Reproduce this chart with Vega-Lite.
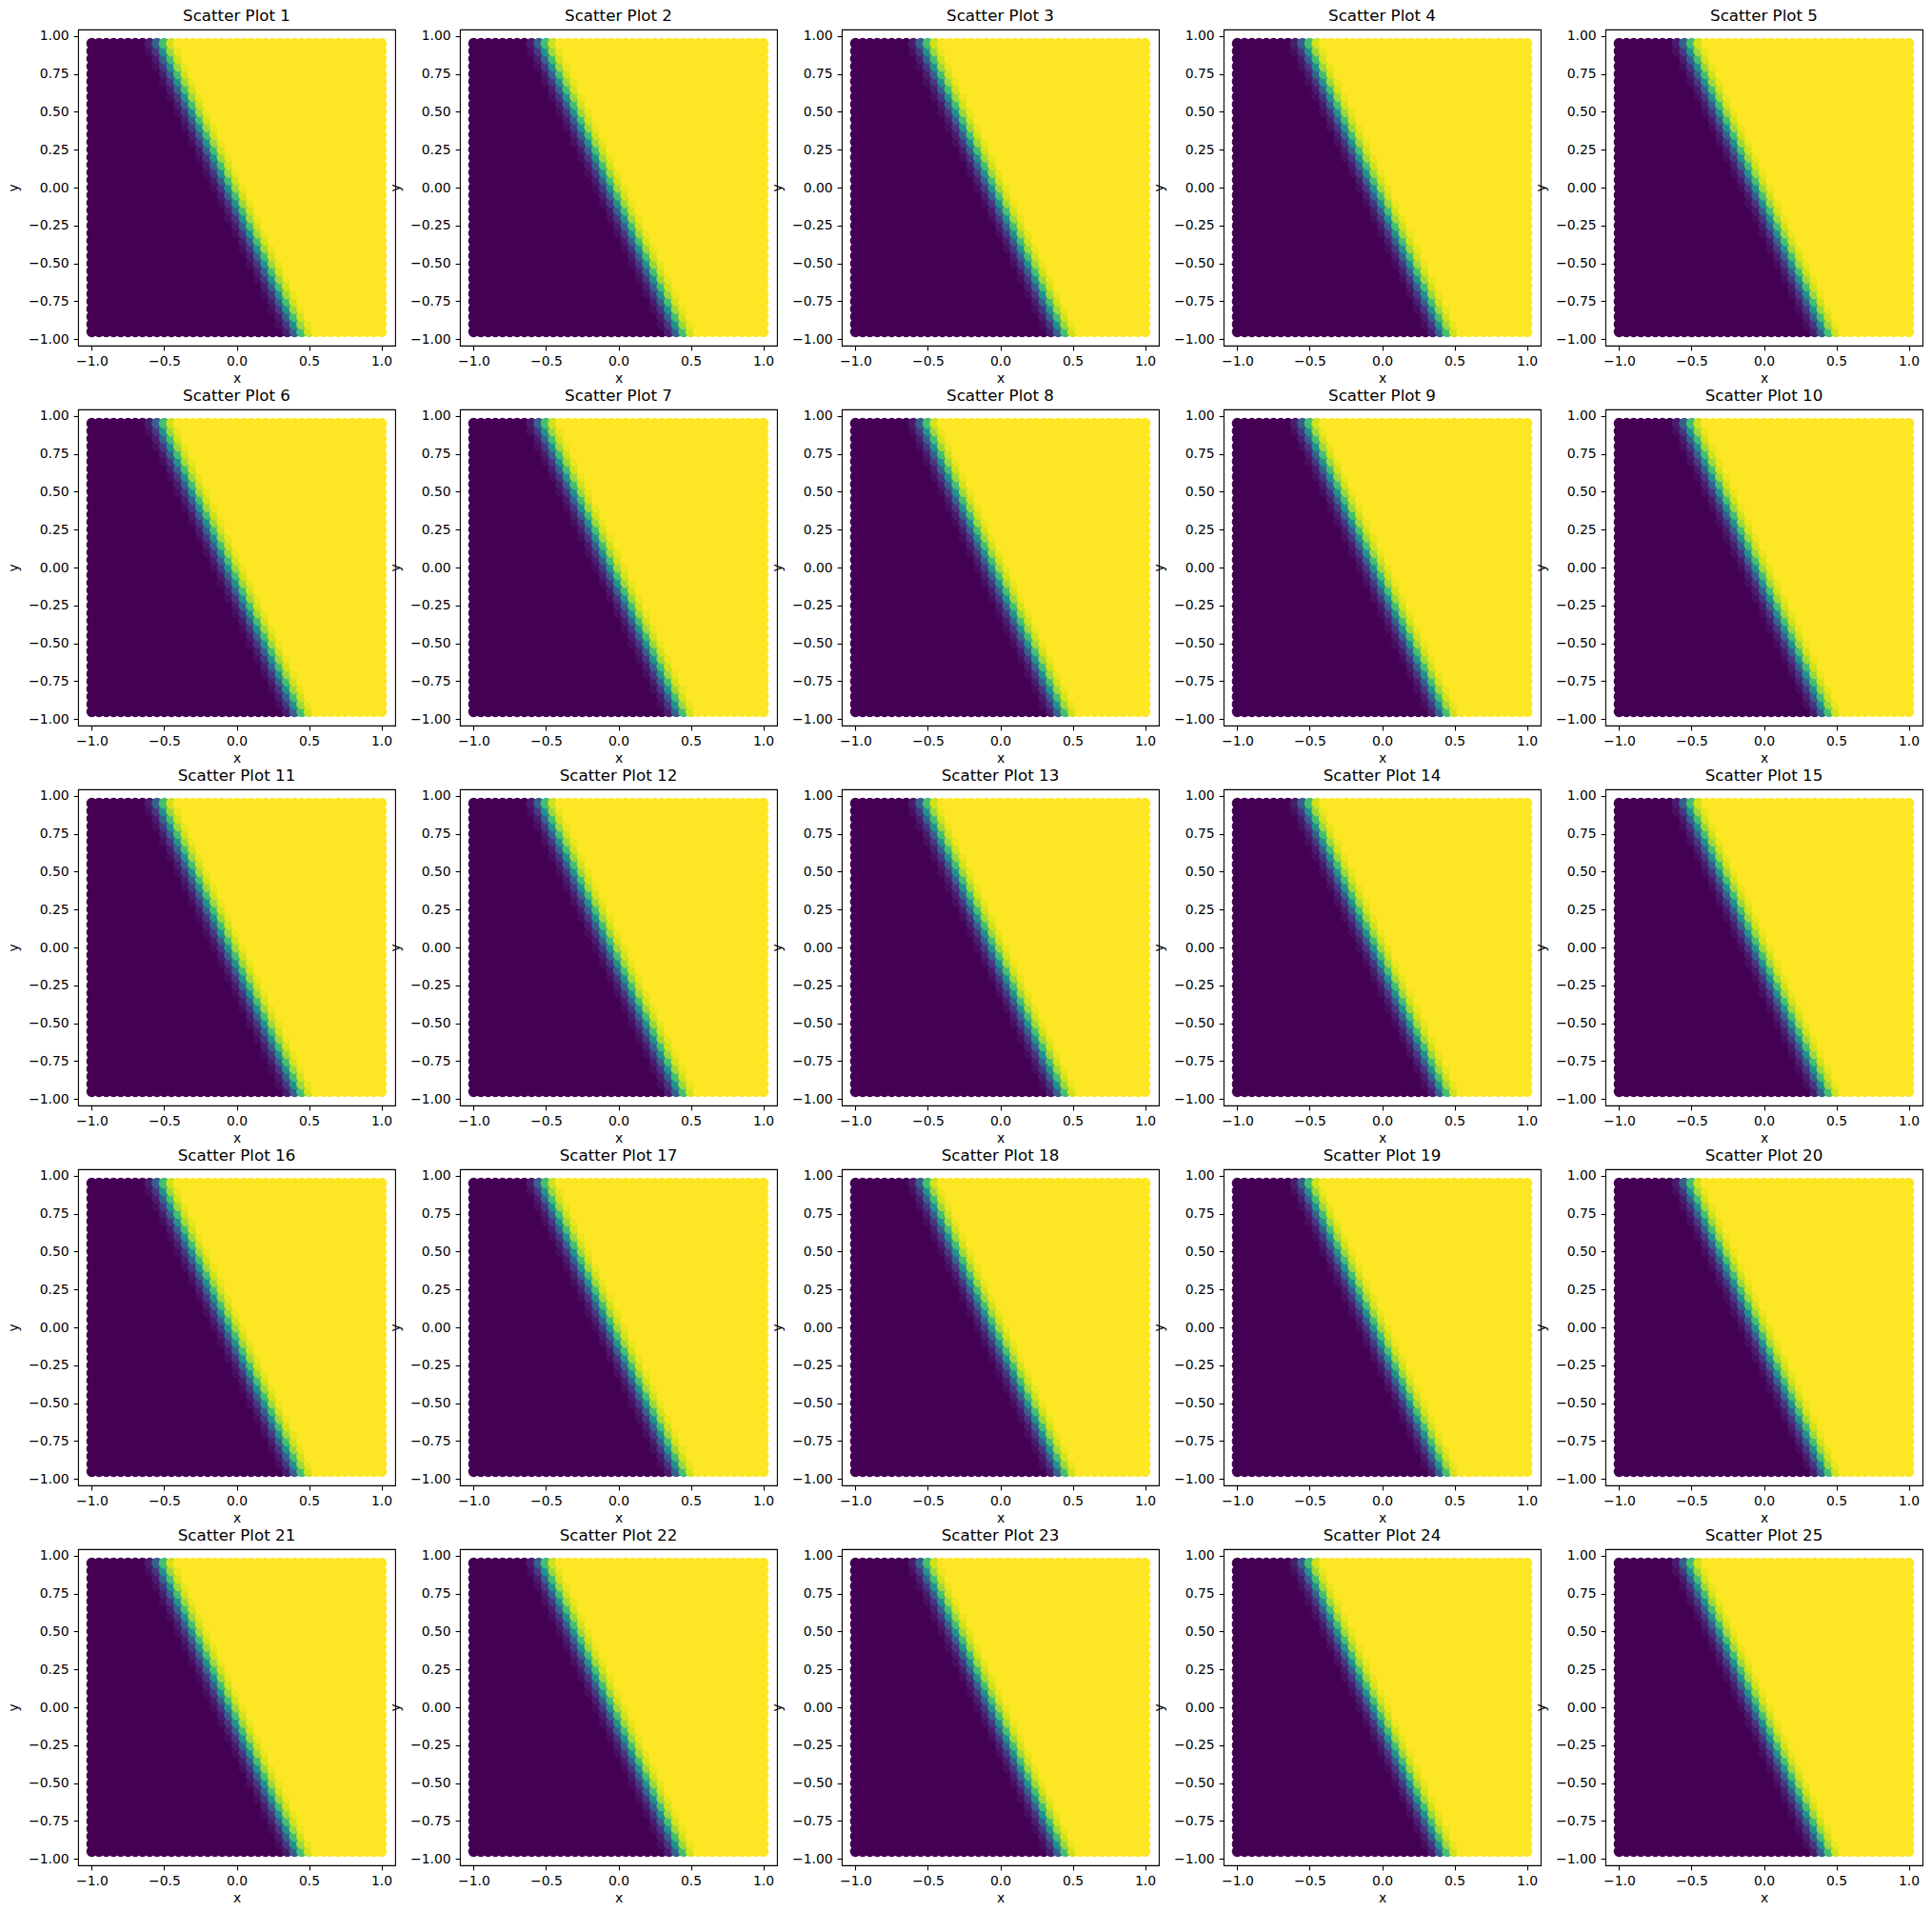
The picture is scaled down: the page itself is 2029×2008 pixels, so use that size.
{
"$schema": "https://vega.github.io/schema/vega-lite/v6.json",
"background": "white",
"padding": {"left": 7, "top": 8, "right": 5, "bottom": 5},
"datasets": {"g": [
{"y":-0.95,"p":[1,2,3,4,5,6,7,8,9,10,11,12,13,14,15,16,17,18,19,20,21,22,23,24,25],"x":[-1,-0.95,-0.9,-0.85,-0.8,-0.75,-0.7,-0.65,-0.6,-0.55,-0.5,-0.45,-0.4,-0.35,-0.3,-0.25,-0.2,-0.15,-0.1,-0.05,0,0.05,0.1,0.15,0.2,0.25,0.3,0.35,0.4,0.45,0.5,0.55,0.6,0.65,0.7,0.75,0.8,0.85,0.9,0.95,1],"c":[0,0,0,0,0, 0,0,0,0,0, 0,0,0,0,0, 0,0,0,0,0, 0,0,0,0,0, 0,0, 0.07,0.3,0.7,0.93, 1,1,1,1,1, 1,1,1,1,1]},
{"y":-0.9,"p":[1,2,3,4,5,6,7,8,9,10,11,12,13,14,15,16,17,18,19,20,21,22,23,24,25],"x":[-1,-0.95,-0.9,-0.85,-0.8,-0.75,-0.7,-0.65,-0.6,-0.55,-0.5,-0.45,-0.4,-0.35,-0.3,-0.25,-0.2,-0.15,-0.1,-0.05,0,0.05,0.1,0.15,0.2,0.25,0.3,0.35,0.4,0.45,0.5,0.55,0.6,0.65,0.7,0.75,0.8,0.85,0.9,0.95,1],"c":[0,0,0,0,0, 0,0,0,0,0, 0,0,0,0,0, 0,0,0,0,0, 0,0,0,0,0, 0, 0.03,0.15,0.5,0.85,0.97, 1,1,1,1,1, 1,1,1,1,1]},
{"y":-0.85,"p":[1,2,3,4,5,6,7,8,9,10,11,12,13,14,15,16,17,18,19,20,21,22,23,24,25],"x":[-1,-0.95,-0.9,-0.85,-0.8,-0.75,-0.7,-0.65,-0.6,-0.55,-0.5,-0.45,-0.4,-0.35,-0.3,-0.25,-0.2,-0.15,-0.1,-0.05,0,0.05,0.1,0.15,0.2,0.25,0.3,0.35,0.4,0.45,0.5,0.55,0.6,0.65,0.7,0.75,0.8,0.85,0.9,0.95,1],"c":[0,0,0,0,0, 0,0,0,0,0, 0,0,0,0,0, 0,0,0,0,0, 0,0,0,0,0, 0, 0.07,0.3,0.7,0.93, 1,1,1,1,1, 1,1,1,1,1, 1]},
{"y":-0.8,"p":[1,2,3,4,5,6,7,8,9,10,11,12,13,14,15,16,17,18,19,20,21,22,23,24,25],"x":[-1,-0.95,-0.9,-0.85,-0.8,-0.75,-0.7,-0.65,-0.6,-0.55,-0.5,-0.45,-0.4,-0.35,-0.3,-0.25,-0.2,-0.15,-0.1,-0.05,0,0.05,0.1,0.15,0.2,0.25,0.3,0.35,0.4,0.45,0.5,0.55,0.6,0.65,0.7,0.75,0.8,0.85,0.9,0.95,1],"c":[0,0,0,0,0, 0,0,0,0,0, 0,0,0,0,0, 0,0,0,0,0, 0,0,0,0,0, 0.03,0.15,0.5,0.85,0.97, 1,1,1,1,1, 1,1,1,1,1, 1]},
{"y":-0.75,"p":[1,2,3,4,5,6,7,8,9,10,11,12,13,14,15,16,17,18,19,20,21,22,23,24,25],"x":[-1,-0.95,-0.9,-0.85,-0.8,-0.75,-0.7,-0.65,-0.6,-0.55,-0.5,-0.45,-0.4,-0.35,-0.3,-0.25,-0.2,-0.15,-0.1,-0.05,0,0.05,0.1,0.15,0.2,0.25,0.3,0.35,0.4,0.45,0.5,0.55,0.6,0.65,0.7,0.75,0.8,0.85,0.9,0.95,1],"c":[0,0,0,0,0, 0,0,0,0,0, 0,0,0,0,0, 0,0,0,0,0, 0,0,0,0,0, 0.07,0.3,0.7,0.93, 1,1,1,1,1, 1,1,1,1,1, 1,1]},
{"y":-0.7,"p":[1,2,3,4,5,6,7,8,9,10,11,12,13,14,15,16,17,18,19,20,21,22,23,24,25],"x":[-1,-0.95,-0.9,-0.85,-0.8,-0.75,-0.7,-0.65,-0.6,-0.55,-0.5,-0.45,-0.4,-0.35,-0.3,-0.25,-0.2,-0.15,-0.1,-0.05,0,0.05,0.1,0.15,0.2,0.25,0.3,0.35,0.4,0.45,0.5,0.55,0.6,0.65,0.7,0.75,0.8,0.85,0.9,0.95,1],"c":[0,0,0,0,0, 0,0,0,0,0, 0,0,0,0,0, 0,0,0,0,0, 0,0,0,0, 0.03,0.15,0.5,0.85,0.97, 1,1,1,1,1, 1,1,1,1,1, 1,1]},
{"y":-0.65,"p":[1,2,3,4,5,6,7,8,9,10,11,12,13,14,15,16,17,18,19,20,21,22,23,24,25],"x":[-1,-0.95,-0.9,-0.85,-0.8,-0.75,-0.7,-0.65,-0.6,-0.55,-0.5,-0.45,-0.4,-0.35,-0.3,-0.25,-0.2,-0.15,-0.1,-0.05,0,0.05,0.1,0.15,0.2,0.25,0.3,0.35,0.4,0.45,0.5,0.55,0.6,0.65,0.7,0.75,0.8,0.85,0.9,0.95,1],"c":[0,0,0,0,0, 0,0,0,0,0, 0,0,0,0,0, 0,0,0,0,0, 0,0,0,0, 0.07,0.3,0.7,0.93, 1,1,1,1,1, 1,1,1,1,1, 1,1,1]},
{"y":-0.6,"p":[1,2,3,4,5,6,7,8,9,10,11,12,13,14,15,16,17,18,19,20,21,22,23,24,25],"x":[-1,-0.95,-0.9,-0.85,-0.8,-0.75,-0.7,-0.65,-0.6,-0.55,-0.5,-0.45,-0.4,-0.35,-0.3,-0.25,-0.2,-0.15,-0.1,-0.05,0,0.05,0.1,0.15,0.2,0.25,0.3,0.35,0.4,0.45,0.5,0.55,0.6,0.65,0.7,0.75,0.8,0.85,0.9,0.95,1],"c":[0,0,0,0,0, 0,0,0,0,0, 0,0,0,0,0, 0,0,0,0,0, 0,0,0, 0.03,0.15,0.5,0.85,0.97, 1,1,1,1,1, 1,1,1,1,1, 1,1,1]},
{"y":-0.55,"p":[1,2,3,4,5,6,7,8,9,10,11,12,13,14,15,16,17,18,19,20,21,22,23,24,25],"x":[-1,-0.95,-0.9,-0.85,-0.8,-0.75,-0.7,-0.65,-0.6,-0.55,-0.5,-0.45,-0.4,-0.35,-0.3,-0.25,-0.2,-0.15,-0.1,-0.05,0,0.05,0.1,0.15,0.2,0.25,0.3,0.35,0.4,0.45,0.5,0.55,0.6,0.65,0.7,0.75,0.8,0.85,0.9,0.95,1],"c":[0,0,0,0,0, 0,0,0,0,0, 0,0,0,0,0, 0,0,0,0,0, 0,0,0, 0.07,0.3,0.7,0.93, 1,1,1,1,1, 1,1,1,1,1, 1,1,1,1]},
{"y":-0.5,"p":[1,2,3,4,5,6,7,8,9,10,11,12,13,14,15,16,17,18,19,20,21,22,23,24,25],"x":[-1,-0.95,-0.9,-0.85,-0.8,-0.75,-0.7,-0.65,-0.6,-0.55,-0.5,-0.45,-0.4,-0.35,-0.3,-0.25,-0.2,-0.15,-0.1,-0.05,0,0.05,0.1,0.15,0.2,0.25,0.3,0.35,0.4,0.45,0.5,0.55,0.6,0.65,0.7,0.75,0.8,0.85,0.9,0.95,1],"c":[0,0,0,0,0, 0,0,0,0,0, 0,0,0,0,0, 0,0,0,0,0, 0,0, 0.03,0.15,0.5,0.85,0.97, 1,1,1,1,1, 1,1,1,1,1, 1,1,1,1]},
{"y":-0.45,"p":[1,2,3,4,5,6,7,8,9,10,11,12,13,14,15,16,17,18,19,20,21,22,23,24,25],"x":[-1,-0.95,-0.9,-0.85,-0.8,-0.75,-0.7,-0.65,-0.6,-0.55,-0.5,-0.45,-0.4,-0.35,-0.3,-0.25,-0.2,-0.15,-0.1,-0.05,0,0.05,0.1,0.15,0.2,0.25,0.3,0.35,0.4,0.45,0.5,0.55,0.6,0.65,0.7,0.75,0.8,0.85,0.9,0.95,1],"c":[0,0,0,0,0, 0,0,0,0,0, 0,0,0,0,0, 0,0,0,0,0, 0,0, 0.07,0.3,0.7,0.93, 1,1,1,1,1, 1,1,1,1,1, 1,1,1,1,1]},
{"y":-0.4,"p":[1,2,3,4,5,6,7,8,9,10,11,12,13,14,15,16,17,18,19,20,21,22,23,24,25],"x":[-1,-0.95,-0.9,-0.85,-0.8,-0.75,-0.7,-0.65,-0.6,-0.55,-0.5,-0.45,-0.4,-0.35,-0.3,-0.25,-0.2,-0.15,-0.1,-0.05,0,0.05,0.1,0.15,0.2,0.25,0.3,0.35,0.4,0.45,0.5,0.55,0.6,0.65,0.7,0.75,0.8,0.85,0.9,0.95,1],"c":[0,0,0,0,0, 0,0,0,0,0, 0,0,0,0,0, 0,0,0,0,0, 0, 0.03,0.15,0.5,0.85,0.97, 1,1,1,1,1, 1,1,1,1,1, 1,1,1,1,1]},
{"y":-0.35,"p":[1,2,3,4,5,6,7,8,9,10,11,12,13,14,15,16,17,18,19,20,21,22,23,24,25],"x":[-1,-0.95,-0.9,-0.85,-0.8,-0.75,-0.7,-0.65,-0.6,-0.55,-0.5,-0.45,-0.4,-0.35,-0.3,-0.25,-0.2,-0.15,-0.1,-0.05,0,0.05,0.1,0.15,0.2,0.25,0.3,0.35,0.4,0.45,0.5,0.55,0.6,0.65,0.7,0.75,0.8,0.85,0.9,0.95,1],"c":[0,0,0,0,0, 0,0,0,0,0, 0,0,0,0,0, 0,0,0,0,0, 0, 0.07,0.3,0.7,0.93, 1,1,1,1,1, 1,1,1,1,1, 1,1,1,1,1, 1]},
{"y":-0.3,"p":[1,2,3,4,5,6,7,8,9,10,11,12,13,14,15,16,17,18,19,20,21,22,23,24,25],"x":[-1,-0.95,-0.9,-0.85,-0.8,-0.75,-0.7,-0.65,-0.6,-0.55,-0.5,-0.45,-0.4,-0.35,-0.3,-0.25,-0.2,-0.15,-0.1,-0.05,0,0.05,0.1,0.15,0.2,0.25,0.3,0.35,0.4,0.45,0.5,0.55,0.6,0.65,0.7,0.75,0.8,0.85,0.9,0.95,1],"c":[0,0,0,0,0, 0,0,0,0,0, 0,0,0,0,0, 0,0,0,0,0, 0.03,0.15,0.5,0.85,0.97, 1,1,1,1,1, 1,1,1,1,1, 1,1,1,1,1, 1]},
{"y":-0.25,"p":[1,2,3,4,5,6,7,8,9,10,11,12,13,14,15,16,17,18,19,20,21,22,23,24,25],"x":[-1,-0.95,-0.9,-0.85,-0.8,-0.75,-0.7,-0.65,-0.6,-0.55,-0.5,-0.45,-0.4,-0.35,-0.3,-0.25,-0.2,-0.15,-0.1,-0.05,0,0.05,0.1,0.15,0.2,0.25,0.3,0.35,0.4,0.45,0.5,0.55,0.6,0.65,0.7,0.75,0.8,0.85,0.9,0.95,1],"c":[0,0,0,0,0, 0,0,0,0,0, 0,0,0,0,0, 0,0,0,0,0, 0.07,0.3,0.7,0.93, 1,1,1,1,1, 1,1,1,1,1, 1,1,1,1,1, 1,1]},
{"y":-0.2,"p":[1,2,3,4,5,6,7,8,9,10,11,12,13,14,15,16,17,18,19,20,21,22,23,24,25],"x":[-1,-0.95,-0.9,-0.85,-0.8,-0.75,-0.7,-0.65,-0.6,-0.55,-0.5,-0.45,-0.4,-0.35,-0.3,-0.25,-0.2,-0.15,-0.1,-0.05,0,0.05,0.1,0.15,0.2,0.25,0.3,0.35,0.4,0.45,0.5,0.55,0.6,0.65,0.7,0.75,0.8,0.85,0.9,0.95,1],"c":[0,0,0,0,0, 0,0,0,0,0, 0,0,0,0,0, 0,0,0,0, 0.03,0.15,0.5,0.85,0.97, 1,1,1,1,1, 1,1,1,1,1, 1,1,1,1,1, 1,1]},
{"y":-0.15,"p":[1,2,3,4,5,6,7,8,9,10,11,12,13,14,15,16,17,18,19,20,21,22,23,24,25],"x":[-1,-0.95,-0.9,-0.85,-0.8,-0.75,-0.7,-0.65,-0.6,-0.55,-0.5,-0.45,-0.4,-0.35,-0.3,-0.25,-0.2,-0.15,-0.1,-0.05,0,0.05,0.1,0.15,0.2,0.25,0.3,0.35,0.4,0.45,0.5,0.55,0.6,0.65,0.7,0.75,0.8,0.85,0.9,0.95,1],"c":[0,0,0,0,0, 0,0,0,0,0, 0,0,0,0,0, 0,0,0,0, 0.07,0.3,0.7,0.93, 1,1,1,1,1, 1,1,1,1,1, 1,1,1,1,1, 1,1,1]},
{"y":-0.1,"p":[1,2,3,4,5,6,7,8,9,10,11,12,13,14,15,16,17,18,19,20,21,22,23,24,25],"x":[-1,-0.95,-0.9,-0.85,-0.8,-0.75,-0.7,-0.65,-0.6,-0.55,-0.5,-0.45,-0.4,-0.35,-0.3,-0.25,-0.2,-0.15,-0.1,-0.05,0,0.05,0.1,0.15,0.2,0.25,0.3,0.35,0.4,0.45,0.5,0.55,0.6,0.65,0.7,0.75,0.8,0.85,0.9,0.95,1],"c":[0,0,0,0,0, 0,0,0,0,0, 0,0,0,0,0, 0,0,0, 0.03,0.15,0.5,0.85,0.97, 1,1,1,1,1, 1,1,1,1,1, 1,1,1,1,1, 1,1,1]},
{"y":-0.05,"p":[1,2,3,4,5,6,7,8,9,10,11,12,13,14,15,16,17,18,19,20,21,22,23,24,25],"x":[-1,-0.95,-0.9,-0.85,-0.8,-0.75,-0.7,-0.65,-0.6,-0.55,-0.5,-0.45,-0.4,-0.35,-0.3,-0.25,-0.2,-0.15,-0.1,-0.05,0,0.05,0.1,0.15,0.2,0.25,0.3,0.35,0.4,0.45,0.5,0.55,0.6,0.65,0.7,0.75,0.8,0.85,0.9,0.95,1],"c":[0,0,0,0,0, 0,0,0,0,0, 0,0,0,0,0, 0,0,0, 0.07,0.3,0.7,0.93, 1,1,1,1,1, 1,1,1,1,1, 1,1,1,1,1, 1,1,1,1]},
{"y":0,"p":[1,2,3,4,5,6,7,8,9,10,11,12,13,14,15,16,17,18,19,20,21,22,23,24,25],"x":[-1,-0.95,-0.9,-0.85,-0.8,-0.75,-0.7,-0.65,-0.6,-0.55,-0.5,-0.45,-0.4,-0.35,-0.3,-0.25,-0.2,-0.15,-0.1,-0.05,0,0.05,0.1,0.15,0.2,0.25,0.3,0.35,0.4,0.45,0.5,0.55,0.6,0.65,0.7,0.75,0.8,0.85,0.9,0.95,1],"c":[0,0,0,0,0, 0,0,0,0,0, 0,0,0,0,0, 0,0, 0.03,0.15,0.5,0.85,0.97, 1,1,1,1,1, 1,1,1,1,1, 1,1,1,1,1, 1,1,1,1]},
{"y":0.05,"p":[1,2,3,4,5,6,7,8,9,10,11,12,13,14,15,16,17,18,19,20,21,22,23,24,25],"x":[-1,-0.95,-0.9,-0.85,-0.8,-0.75,-0.7,-0.65,-0.6,-0.55,-0.5,-0.45,-0.4,-0.35,-0.3,-0.25,-0.2,-0.15,-0.1,-0.05,0,0.05,0.1,0.15,0.2,0.25,0.3,0.35,0.4,0.45,0.5,0.55,0.6,0.65,0.7,0.75,0.8,0.85,0.9,0.95,1],"c":[0,0,0,0,0, 0,0,0,0,0, 0,0,0,0,0, 0,0, 0.07,0.3,0.7,0.93, 1,1,1,1,1, 1,1,1,1,1, 1,1,1,1,1, 1,1,1,1,1]},
{"y":0.1,"p":[1,2,3,4,5,6,7,8,9,10,11,12,13,14,15,16,17,18,19,20,21,22,23,24,25],"x":[-1,-0.95,-0.9,-0.85,-0.8,-0.75,-0.7,-0.65,-0.6,-0.55,-0.5,-0.45,-0.4,-0.35,-0.3,-0.25,-0.2,-0.15,-0.1,-0.05,0,0.05,0.1,0.15,0.2,0.25,0.3,0.35,0.4,0.45,0.5,0.55,0.6,0.65,0.7,0.75,0.8,0.85,0.9,0.95,1],"c":[0,0,0,0,0, 0,0,0,0,0, 0,0,0,0,0, 0, 0.03,0.15,0.5,0.85,0.97, 1,1,1,1,1, 1,1,1,1,1, 1,1,1,1,1, 1,1,1,1,1]},
{"y":0.15,"p":[1,2,3,4,5,6,7,8,9,10,11,12,13,14,15,16,17,18,19,20,21,22,23,24,25],"x":[-1,-0.95,-0.9,-0.85,-0.8,-0.75,-0.7,-0.65,-0.6,-0.55,-0.5,-0.45,-0.4,-0.35,-0.3,-0.25,-0.2,-0.15,-0.1,-0.05,0,0.05,0.1,0.15,0.2,0.25,0.3,0.35,0.4,0.45,0.5,0.55,0.6,0.65,0.7,0.75,0.8,0.85,0.9,0.95,1],"c":[0,0,0,0,0, 0,0,0,0,0, 0,0,0,0,0, 0, 0.07,0.3,0.7,0.93, 1,1,1,1,1, 1,1,1,1,1, 1,1,1,1,1, 1,1,1,1,1, 1]},
{"y":0.2,"p":[1,2,3,4,5,6,7,8,9,10,11,12,13,14,15,16,17,18,19,20,21,22,23,24,25],"x":[-1,-0.95,-0.9,-0.85,-0.8,-0.75,-0.7,-0.65,-0.6,-0.55,-0.5,-0.45,-0.4,-0.35,-0.3,-0.25,-0.2,-0.15,-0.1,-0.05,0,0.05,0.1,0.15,0.2,0.25,0.3,0.35,0.4,0.45,0.5,0.55,0.6,0.65,0.7,0.75,0.8,0.85,0.9,0.95,1],"c":[0,0,0,0,0, 0,0,0,0,0, 0,0,0,0,0, 0.03,0.15,0.5,0.85,0.97, 1,1,1,1,1, 1,1,1,1,1, 1,1,1,1,1, 1,1,1,1,1, 1]},
{"y":0.25,"p":[1,2,3,4,5,6,7,8,9,10,11,12,13,14,15,16,17,18,19,20,21,22,23,24,25],"x":[-1,-0.95,-0.9,-0.85,-0.8,-0.75,-0.7,-0.65,-0.6,-0.55,-0.5,-0.45,-0.4,-0.35,-0.3,-0.25,-0.2,-0.15,-0.1,-0.05,0,0.05,0.1,0.15,0.2,0.25,0.3,0.35,0.4,0.45,0.5,0.55,0.6,0.65,0.7,0.75,0.8,0.85,0.9,0.95,1],"c":[0,0,0,0,0, 0,0,0,0,0, 0,0,0,0,0, 0.07,0.3,0.7,0.93, 1,1,1,1,1, 1,1,1,1,1, 1,1,1,1,1, 1,1,1,1,1, 1,1]},
{"y":0.3,"p":[1,2,3,4,5,6,7,8,9,10,11,12,13,14,15,16,17,18,19,20,21,22,23,24,25],"x":[-1,-0.95,-0.9,-0.85,-0.8,-0.75,-0.7,-0.65,-0.6,-0.55,-0.5,-0.45,-0.4,-0.35,-0.3,-0.25,-0.2,-0.15,-0.1,-0.05,0,0.05,0.1,0.15,0.2,0.25,0.3,0.35,0.4,0.45,0.5,0.55,0.6,0.65,0.7,0.75,0.8,0.85,0.9,0.95,1],"c":[0,0,0,0,0, 0,0,0,0,0, 0,0,0,0, 0.03,0.15,0.5,0.85,0.97, 1,1,1,1,1, 1,1,1,1,1, 1,1,1,1,1, 1,1,1,1,1, 1,1]},
{"y":0.35,"p":[1,2,3,4,5,6,7,8,9,10,11,12,13,14,15,16,17,18,19,20,21,22,23,24,25],"x":[-1,-0.95,-0.9,-0.85,-0.8,-0.75,-0.7,-0.65,-0.6,-0.55,-0.5,-0.45,-0.4,-0.35,-0.3,-0.25,-0.2,-0.15,-0.1,-0.05,0,0.05,0.1,0.15,0.2,0.25,0.3,0.35,0.4,0.45,0.5,0.55,0.6,0.65,0.7,0.75,0.8,0.85,0.9,0.95,1],"c":[0,0,0,0,0, 0,0,0,0,0, 0,0,0,0, 0.07,0.3,0.7,0.93, 1,1,1,1,1, 1,1,1,1,1, 1,1,1,1,1, 1,1,1,1,1, 1,1,1]},
{"y":0.4,"p":[1,2,3,4,5,6,7,8,9,10,11,12,13,14,15,16,17,18,19,20,21,22,23,24,25],"x":[-1,-0.95,-0.9,-0.85,-0.8,-0.75,-0.7,-0.65,-0.6,-0.55,-0.5,-0.45,-0.4,-0.35,-0.3,-0.25,-0.2,-0.15,-0.1,-0.05,0,0.05,0.1,0.15,0.2,0.25,0.3,0.35,0.4,0.45,0.5,0.55,0.6,0.65,0.7,0.75,0.8,0.85,0.9,0.95,1],"c":[0,0,0,0,0, 0,0,0,0,0, 0,0,0, 0.03,0.15,0.5,0.85,0.97, 1,1,1,1,1, 1,1,1,1,1, 1,1,1,1,1, 1,1,1,1,1, 1,1,1]},
{"y":0.45,"p":[1,2,3,4,5,6,7,8,9,10,11,12,13,14,15,16,17,18,19,20,21,22,23,24,25],"x":[-1,-0.95,-0.9,-0.85,-0.8,-0.75,-0.7,-0.65,-0.6,-0.55,-0.5,-0.45,-0.4,-0.35,-0.3,-0.25,-0.2,-0.15,-0.1,-0.05,0,0.05,0.1,0.15,0.2,0.25,0.3,0.35,0.4,0.45,0.5,0.55,0.6,0.65,0.7,0.75,0.8,0.85,0.9,0.95,1],"c":[0,0,0,0,0, 0,0,0,0,0, 0,0,0, 0.07,0.3,0.7,0.93, 1,1,1,1,1, 1,1,1,1,1, 1,1,1,1,1, 1,1,1,1,1, 1,1,1,1]},
{"y":0.5,"p":[1,2,3,4,5,6,7,8,9,10,11,12,13,14,15,16,17,18,19,20,21,22,23,24,25],"x":[-1,-0.95,-0.9,-0.85,-0.8,-0.75,-0.7,-0.65,-0.6,-0.55,-0.5,-0.45,-0.4,-0.35,-0.3,-0.25,-0.2,-0.15,-0.1,-0.05,0,0.05,0.1,0.15,0.2,0.25,0.3,0.35,0.4,0.45,0.5,0.55,0.6,0.65,0.7,0.75,0.8,0.85,0.9,0.95,1],"c":[0,0,0,0,0, 0,0,0,0,0, 0,0, 0.03,0.15,0.5,0.85,0.97, 1,1,1,1,1, 1,1,1,1,1, 1,1,1,1,1, 1,1,1,1,1, 1,1,1,1]},
{"y":0.55,"p":[1,2,3,4,5,6,7,8,9,10,11,12,13,14,15,16,17,18,19,20,21,22,23,24,25],"x":[-1,-0.95,-0.9,-0.85,-0.8,-0.75,-0.7,-0.65,-0.6,-0.55,-0.5,-0.45,-0.4,-0.35,-0.3,-0.25,-0.2,-0.15,-0.1,-0.05,0,0.05,0.1,0.15,0.2,0.25,0.3,0.35,0.4,0.45,0.5,0.55,0.6,0.65,0.7,0.75,0.8,0.85,0.9,0.95,1],"c":[0,0,0,0,0, 0,0,0,0,0, 0,0, 0.07,0.3,0.7,0.93, 1,1,1,1,1, 1,1,1,1,1, 1,1,1,1,1, 1,1,1,1,1, 1,1,1,1,1]},
{"y":0.6,"p":[1,2,3,4,5,6,7,8,9,10,11,12,13,14,15,16,17,18,19,20,21,22,23,24,25],"x":[-1,-0.95,-0.9,-0.85,-0.8,-0.75,-0.7,-0.65,-0.6,-0.55,-0.5,-0.45,-0.4,-0.35,-0.3,-0.25,-0.2,-0.15,-0.1,-0.05,0,0.05,0.1,0.15,0.2,0.25,0.3,0.35,0.4,0.45,0.5,0.55,0.6,0.65,0.7,0.75,0.8,0.85,0.9,0.95,1],"c":[0,0,0,0,0, 0,0,0,0,0, 0, 0.03,0.15,0.5,0.85,0.97, 1,1,1,1,1, 1,1,1,1,1, 1,1,1,1,1, 1,1,1,1,1, 1,1,1,1,1]},
{"y":0.65,"p":[1,2,3,4,5,6,7,8,9,10,11,12,13,14,15,16,17,18,19,20,21,22,23,24,25],"x":[-1,-0.95,-0.9,-0.85,-0.8,-0.75,-0.7,-0.65,-0.6,-0.55,-0.5,-0.45,-0.4,-0.35,-0.3,-0.25,-0.2,-0.15,-0.1,-0.05,0,0.05,0.1,0.15,0.2,0.25,0.3,0.35,0.4,0.45,0.5,0.55,0.6,0.65,0.7,0.75,0.8,0.85,0.9,0.95,1],"c":[0,0,0,0,0, 0,0,0,0,0, 0, 0.07,0.3,0.7,0.93, 1,1,1,1,1, 1,1,1,1,1, 1,1,1,1,1, 1,1,1,1,1, 1,1,1,1,1, 1]},
{"y":0.7,"p":[1,2,3,4,5,6,7,8,9,10,11,12,13,14,15,16,17,18,19,20,21,22,23,24,25],"x":[-1,-0.95,-0.9,-0.85,-0.8,-0.75,-0.7,-0.65,-0.6,-0.55,-0.5,-0.45,-0.4,-0.35,-0.3,-0.25,-0.2,-0.15,-0.1,-0.05,0,0.05,0.1,0.15,0.2,0.25,0.3,0.35,0.4,0.45,0.5,0.55,0.6,0.65,0.7,0.75,0.8,0.85,0.9,0.95,1],"c":[0,0,0,0,0, 0,0,0,0,0, 0.03,0.15,0.5,0.85,0.97, 1,1,1,1,1, 1,1,1,1,1, 1,1,1,1,1, 1,1,1,1,1, 1,1,1,1,1, 1]},
{"y":0.75,"p":[1,2,3,4,5,6,7,8,9,10,11,12,13,14,15,16,17,18,19,20,21,22,23,24,25],"x":[-1,-0.95,-0.9,-0.85,-0.8,-0.75,-0.7,-0.65,-0.6,-0.55,-0.5,-0.45,-0.4,-0.35,-0.3,-0.25,-0.2,-0.15,-0.1,-0.05,0,0.05,0.1,0.15,0.2,0.25,0.3,0.35,0.4,0.45,0.5,0.55,0.6,0.65,0.7,0.75,0.8,0.85,0.9,0.95,1],"c":[0,0,0,0,0, 0,0,0,0,0, 0.07,0.3,0.7,0.93, 1,1,1,1,1, 1,1,1,1,1, 1,1,1,1,1, 1,1,1,1,1, 1,1,1,1,1, 1,1]},
{"y":0.8,"p":[1,2,3,4,5,6,7,8,9,10,11,12,13,14,15,16,17,18,19,20,21,22,23,24,25],"x":[-1,-0.95,-0.9,-0.85,-0.8,-0.75,-0.7,-0.65,-0.6,-0.55,-0.5,-0.45,-0.4,-0.35,-0.3,-0.25,-0.2,-0.15,-0.1,-0.05,0,0.05,0.1,0.15,0.2,0.25,0.3,0.35,0.4,0.45,0.5,0.55,0.6,0.65,0.7,0.75,0.8,0.85,0.9,0.95,1],"c":[0,0,0,0,0, 0,0,0,0, 0.03,0.15,0.5,0.85,0.97, 1,1,1,1,1, 1,1,1,1,1, 1,1,1,1,1, 1,1,1,1,1, 1,1,1,1,1, 1,1]},
{"y":0.85,"p":[1,2,3,4,5,6,7,8,9,10,11,12,13,14,15,16,17,18,19,20,21,22,23,24,25],"x":[-1,-0.95,-0.9,-0.85,-0.8,-0.75,-0.7,-0.65,-0.6,-0.55,-0.5,-0.45,-0.4,-0.35,-0.3,-0.25,-0.2,-0.15,-0.1,-0.05,0,0.05,0.1,0.15,0.2,0.25,0.3,0.35,0.4,0.45,0.5,0.55,0.6,0.65,0.7,0.75,0.8,0.85,0.9,0.95,1],"c":[0,0,0,0,0, 0,0,0,0, 0.07,0.3,0.7,0.93, 1,1,1,1,1, 1,1,1,1,1, 1,1,1,1,1, 1,1,1,1,1, 1,1,1,1,1, 1,1,1]},
{"y":0.9,"p":[1,2,3,4,5,6,7,8,9,10,11,12,13,14,15,16,17,18,19,20,21,22,23,24,25],"x":[-1,-0.95,-0.9,-0.85,-0.8,-0.75,-0.7,-0.65,-0.6,-0.55,-0.5,-0.45,-0.4,-0.35,-0.3,-0.25,-0.2,-0.15,-0.1,-0.05,0,0.05,0.1,0.15,0.2,0.25,0.3,0.35,0.4,0.45,0.5,0.55,0.6,0.65,0.7,0.75,0.8,0.85,0.9,0.95,1],"c":[0,0,0,0,0, 0,0,0, 0.03,0.15,0.5,0.85,0.97, 1,1,1,1,1, 1,1,1,1,1, 1,1,1,1,1, 1,1,1,1,1, 1,1,1,1,1, 1,1,1]},
{"y":0.95,"p":[1,2,3,4,5,6,7,8,9,10,11,12,13,14,15,16,17,18,19,20,21,22,23,24,25],"x":[-1,-0.95,-0.9,-0.85,-0.8,-0.75,-0.7,-0.65,-0.6,-0.55,-0.5,-0.45,-0.4,-0.35,-0.3,-0.25,-0.2,-0.15,-0.1,-0.05,0,0.05,0.1,0.15,0.2,0.25,0.3,0.35,0.4,0.45,0.5,0.55,0.6,0.65,0.7,0.75,0.8,0.85,0.9,0.95,1],"c":[0,0,0,0,0, 0,0,0, 0.07,0.3,0.7,0.93, 1,1,1,1,1, 1,1,1,1,1, 1,1,1,1,1, 1,1,1,1,1, 1,1,1,1,1, 1,1,1,1]}
]},
"data": {"name": "g"},
"transform": [{"flatten": ["p"]}, {"flatten": ["x", "c"]}],
"facet": {"field": "p", "type": "ordinal", "title": null,
  "header": {"title": null, "labelExpr": "'Scatter Plot ' + datum.value", "labelFont": "DejaVu Sans", "labelFontSize": 16.7, "labelColor": "black", "labelPadding": 5}},
"columns": 5,
"spacing": {"row": 67, "column": 68},
"bounds": "flush",
"resolve": {"axis": {"x": "independent", "y": "independent"}},
"spec": {
  "width": 333,
  "height": 332,
  "mark": {"type": "circle", "size": 135, "opacity": 1, "strokeWidth": 0},
  "encoding": {
    "x": {"field": "x", "type": "quantitative", "scale": {"domain": [-1.095, 1.095], "nice": false, "zero": false},
          "axis": {"values": [-1, -0.5, 0, 0.5, 1], "format": ".1f", "title": "x"}},
    "y": {"field": "y", "type": "quantitative", "scale": {"domain": [-1.042, 1.042], "nice": false, "zero": false},
          "axis": {"values": [-1, -0.75, -0.5, -0.25, 0, 0.25, 0.5, 0.75, 1], "format": ".2f", "title": "y"}},
    "color": {"field": "c", "type": "quantitative", "scale": {"scheme": "viridis", "domain": [0, 1]}, "legend": null}
  }
},
"config": {
  "view": {"stroke": "black", "strokeWidth": 1.1},
  "axis": {"domain": false, "grid": false, "ticks": true, "tickColor": "black", "tickSize": 4.9, "tickWidth": 1.1,
           "labelFont": "DejaVu Sans", "labelFontSize": 13.9, "labelColor": "black", "labelPadding": 4.9,
           "labelFlush": false, "labelOverlap": false, "labelBound": false,
           "titleFont": "DejaVu Sans", "titleFontSize": 13.9, "titleFontWeight": "normal", "titleColor": "black"},
  "axisX": {"titlePadding": 4},
  "axisY": {"titlePadding": 8}
}
}
